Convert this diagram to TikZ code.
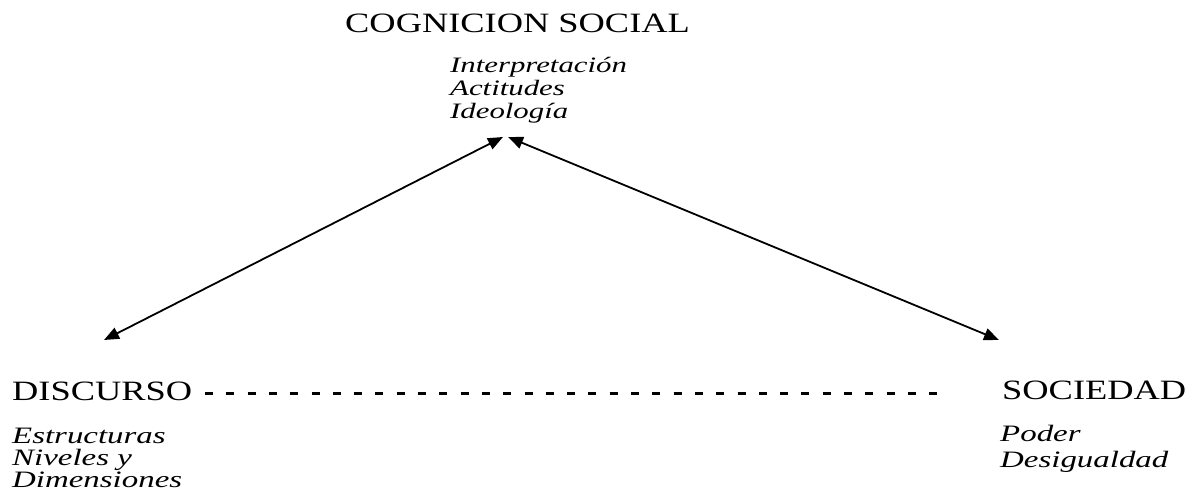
\documentclass[tikz,border=0pt]{standalone}
\usepackage{fontspec}
\setmainfont{Liberation Serif}
\newfontfamily\upfam[FakeStretch=1.3]{Liberation Serif}
\newfontfamily\itfam[FakeStretch=1.4]{Liberation Serif}
\usetikzlibrary{arrows.meta}
\tikzset{
  title/.style={anchor=base west, inner sep=0pt, font=\upfam\fontsize{28}{32}\selectfont},
  sub/.style={anchor=base west, inner sep=0pt, font=\itfam\itshape\fontsize{22}{25}\selectfont},
  subb/.style={anchor=base west, inner sep=0pt, font=\itfam\itshape\fontsize{23.5}{26}\selectfont},
  link/.style={line width=1.8pt, {Triangle[length=15pt,width=12pt]}-{Triangle[length=15pt,width=12pt]}},
  dashline/.style={line width=3pt, dash pattern=on 8pt off 13.3pt}
}
\begin{document}
\begin{tikzpicture}[x=1pt,y=-1pt]
\useasboundingbox (0,0) rectangle (1186,498);
% titles
\node[title] (cog) at (345,32) {COGNICION SOCIAL};
\node[title] (disc) at (12,400) {DISCURSO};
\node[title] (soc) at (1002,399) {SOCIEDAD};
% sub texts
\node[sub] (c1) at (450,72) {Interpretación};
\node[sub] (c2) at (450,95) {Actitudes};
\node[sub] (c3) at (450,118) {Ideología};
\node[subb] (d1) at (12,443) {Estructuras};
\node[subb] (d2) at (12,465) {Niveles y};
\node[subb] (d3) at (12,487) {Dimensiones};
\node[subb] (s1) at (1000,441) {Poder};
\node[subb] (s2) at (1000,467) {Desigualdad};
% arrow end points
\coordinate (cogL) at (503,137);
\coordinate (cogR) at (508,137);
\coordinate (discA) at (104,340);
\coordinate (socA) at (999,340);
\draw[link] (discA) -- (cogL);
\draw[link] (cogR) -- (socA);
% dashed line
\coordinate (dashS) at (205,393);
\coordinate (dashE) at (938,393);
\draw[dashline] (dashS) -- (dashE);
\end{tikzpicture}
\end{document}
